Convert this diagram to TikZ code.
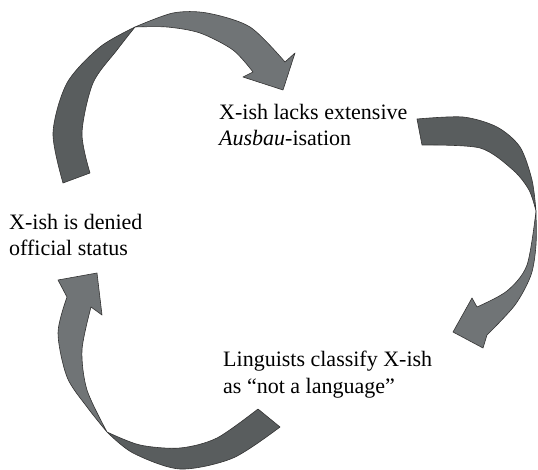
\documentclass[tikz,border=0pt]{standalone}
\usepackage{fontspec}
\setmainfont{Liberation Serif}
\usepackage{tikz}
\usetikzlibrary{positioning}
\definecolor{ribbonback}{RGB}{89,93,94}
\definecolor{ribbonfront}{RGB}{112,116,118}

\begin{document}
\begin{tikzpicture}[x=1pt,y=-1pt,
    every node/.style={inner sep=0pt,align=left,anchor=base west,font=\fontsize{22}{26.5}\selectfont},
    back/.style={fill=ribbonback,draw=black!80,line width=0.6pt,line join=round},
    front/.style={fill=ribbonfront,draw=black!80,line width=0.6pt,line join=round}]
    \useasboundingbox (0,0) rectangle (538,470);

    \node (lacks)    at (219,146) {X-ish lacks extensive\\\emph{Ausbau}-isation};
    \node (denied)   at (9,256)   {X-ish is denied\\official status};
    \node (classify) at (223,393) {Linguists classify X-ish\\as ``not a language''};

    % denied -> lacks
    \path[back] plot[smooth] coordinates {(63,183) (53,133) (67,83) (100,47) (135,27)}
        -- plot[smooth] coordinates {(135,27) (117,50) (93,83) (82,133) (90,173)} -- cycle;
    \path[front] plot[smooth] coordinates {(135,27) (173,13) (207,13) (250,27) (285,62)}
        -- (295,53) -- (283,90) -- (243,77)
        -- plot[smooth] coordinates {(253,72) (233,50) (200,33) (167,27) (135,27)} -- cycle;

    % lacks -> classify
    \path[back] plot[smooth] coordinates {(417,119) (463,117) (497,127) (520,147) (532,180) (536,211)}
        -- plot[smooth] coordinates {(536,211) (529,190) (513,170) (480,148) (422,145)} -- cycle;
    \path[front] plot[smooth] coordinates {(536,211) (536,245) (531,275) (515,305) (487,335)}
        -- (483,348) -- (453,332) -- (472,298)
        -- plot[smooth] coordinates {(477,307) (507,291) (527,265) (536,211)} -- cycle;

    % classify -> denied
    \path[back] plot[smooth] coordinates {(258,409) (217,438) (180,448) (140,445) (107,432)}
        -- plot[smooth] coordinates {(107,432) (133,453) (180,469) (233,458) (280,427)} -- cycle;
    \path[front] plot[smooth] coordinates {(107,432) (87,407) (67,377) (58,333) (67,297)}
        -- (58,280) -- (97,273) -- (102,315)
        -- plot[smooth] coordinates {(91,307) (82,350) (87,390) (107,432)} -- cycle;
\end{tikzpicture}
\end{document}
